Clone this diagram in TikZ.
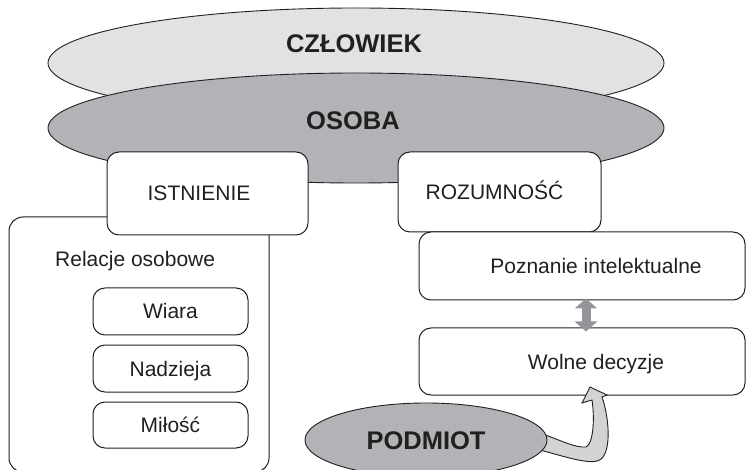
\documentclass[tikz,border=0pt]{standalone}
\usepackage{fontspec}
\setmainfont{Liberation Sans}
\usetikzlibrary{shapes.geometric,arrows.meta}
\definecolor{ink}{HTML}{231F20}
\definecolor{lightfill}{HTML}{E1E2E4}
\definecolor{midfill}{HTML}{B2B3B6}
\definecolor{arrowgray}{HTML}{939598}
\definecolor{curvefill}{HTML}{D1D3D4}
\begin{document}
\begin{tikzpicture}[x=1pt,y=-1pt,
  every node/.style={text=ink},
  oval/.style={ellipse, draw=ink, line width=0.9pt, inner sep=0pt},
  bigtxt/.style={font=\fontsize{25.5}{30}\selectfont\bfseries, inner sep=0pt, text height=18pt, text depth=0pt},
  txt/.style={font=\fontsize{21}{25}\selectfont, inner sep=0pt},
  rbox/.style={draw=ink, line width=1pt, rounded corners=12pt, fill=white, inner sep=0pt,
    font=\fontsize{21}{25}\selectfont, text height=15pt, text depth=0pt},
  dblarrow/.style={arrowgray, line width=9pt,
    {Triangle[width=22pt,length=10pt]}-{Triangle[width=22pt,length=10pt]}},
  fatarrow/.style={fill=curvefill, draw=ink, line width=0.9pt, line join=miter}]
\useasboundingbox (0,0) rectangle (747,470);
% ellipses
\node[oval, fill=lightfill, minimum width=616pt, minimum height=110pt] (czl) at (356,63) {};
\node[bigtxt] (czlt) at (354,44) {CZŁOWIEK};
\node[oval, fill=midfill, minimum width=616pt, minimum height=110pt] (oso) at (356,128) {};
\node[bigtxt] (osot) at (353,121) {OSOBA};
% left column
\node[rbox, minimum width=260pt, minimum height=255pt, rounded corners=14pt] (rel) at (139,344.5) {};
\node[txt, anchor=base west] (relt) at (55,267) {Relacje osobowe};
\node[rbox, minimum width=201pt, minimum height=83pt] (ist) at (207.5,193.5) {\hspace*{-17pt}ISTNIENIE};
\node[rbox, minimum width=155pt, minimum height=47pt] (wia) at (170.5,311.5) {Wiara};
\node[rbox, minimum width=155pt, minimum height=47pt] (nad) at (170.5,368.5) {Nadzieja};
\node[rbox, minimum width=155pt, minimum height=46pt] (mil) at (170.5,425) {Miłość};
% right column
\node[rbox, minimum width=203pt, minimum height=80pt] (roz) at (499.5,192) {\hspace*{-10pt}ROZUMNOŚĆ};
\node[rbox, minimum width=326pt, minimum height=68pt] (poz) at (582,266) {\hspace*{28pt}Poznanie intelektualne};
\node[rbox, minimum width=326pt, minimum height=67pt] (wol) at (582,361.5) {\hspace*{28pt}Wolne decyzje};
% double arrow
\coordinate (dbx) at (586,0);
\draw[dblarrow, shorten <=-2pt, shorten >=-4pt] (poz.south -| dbx) -- (wol.north -| dbx);
% curved fat arrow from PODMIOT to Wolne decyzje
\filldraw[fatarrow]
  (540,433) .. controls (560,440) and (575,448) .. (586,447)
  .. controls (593,444) and (595,420) .. (592,400)
  -- (582,403) -- (590,387) -- (607,395) -- (602,397)
  .. controls (610,420) and (612,458) .. (597,461)
  .. controls (585,464) and (560,455) .. (536,449) -- cycle;
% PODMIOT
\node[oval, bigtxt, fill=midfill, minimum width=242pt, minimum height=74pt] (pod) at (426,440) {PODMIOT};
\end{tikzpicture}
\end{document}
